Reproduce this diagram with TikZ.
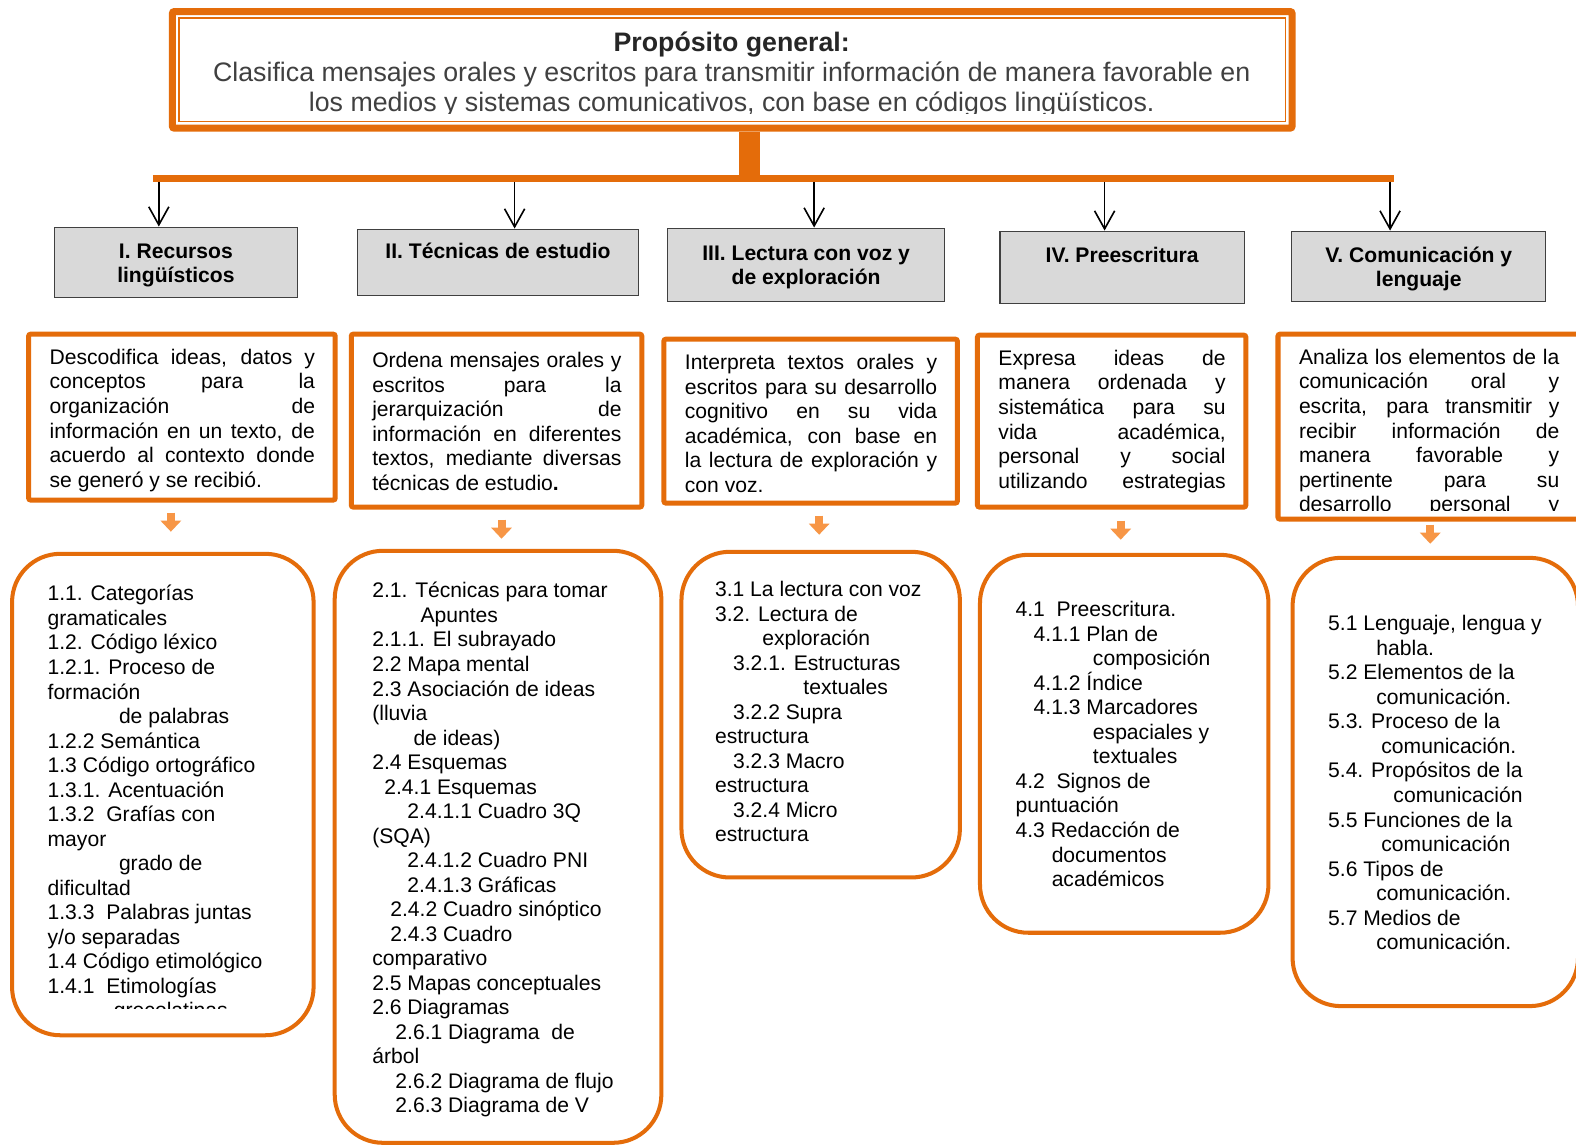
\documentclass[tikz,border=0pt]{standalone}
\usepackage{fontspec}
\setmainfont{Liberation Sans}
\usetikzlibrary{arrows.meta, calc}
\definecolor{orgC}{RGB}{228,108,10}
\definecolor{arrC}{RGB}{247,150,70}
\definecolor{hdrC}{RGB}{217,217,217}
\definecolor{txtC}{RGB}{64,64,64}
\newcommand{\bodyfs}{\fontsize{10.5}{12.2}\selectfont}
\newcommand{\loosepar}{\tolerance=10000 \hbadness=10000 }
\tikzset{
  hdr/.style  = {draw=black!75, fill=hdrC, line width=0.6pt, inner sep=0pt,
                 align=center, font=\bfseries\fontsize{10.5}{12}\selectfont},
  dbox/.style = {draw=orgC, line width=2.5pt, rounded corners=1pt, inner sep=0pt},
  cbox/.style = {draw=orgC, line width=2pt, rounded corners=24pt, inner sep=0pt},
  dtxt/.style = {anchor=north west, inner sep=0pt, align=justify, font=\bodyfs},
  ctxt/.style = {anchor=north west, inner sep=0pt, align=left, font=\bodyfs},
  down/.style = {-{Straight Barb[length=9pt, width=10pt]}, line width=0.8pt},
  blk/.style  = {-{Triangle[length=5.5pt, width=10pt]}, line width=4pt, arrC},
  bar/.style  = {orgC, line width=3.5pt},
}

\begin{document}
\begin{tikzpicture}[x=0.5pt, y=-0.5pt]

\clip (0,0) rectangle (1568,1140);
\fill[white] (0,0) rectangle (1568,1140);

% ============================================================
%  Purpose box
% ============================================================
\node[draw=orgC, line width=3.5pt, rounded corners=1pt, inner sep=0pt,
      minimum width=557pt, minimum height=58pt] (prop) at (728.5,69.5) {};
\draw[orgC, line width=0.6pt]
  ($(prop.north west)+(10,10)$) rectangle ($(prop.south east)-(10,10)$);

\begin{scope}
  \clip (180,20) rectangle (1277,113);
  \node[anchor=north, align=center, inner sep=0pt, text=txtC,
        font=\fontsize{13.3}{15}\selectfont] (proptxt) at (728,31)
  {\textbf{\color{black!85}Propósito general:}\\
   Clasifica mensajes orales y escritos para transmitir información de manera favorable en\\
   los medios y sistemas comunicativos, con base en códigos lingüísticos.};
\end{scope}

% Stem and bar
\coordinate (stem) at (746,178);
\coordinate (barL) at (152,178);
\coordinate (barR) at (1387,178);
\draw[orgC, line width=10.5pt] (stem |- prop.south) -- (stem);
\draw[bar] (barL) -- (barR);

% ============================================================
%  Unit headers
% ============================================================
\node[hdr, minimum width=121pt,   minimum height=35pt]   (h1) at (175,261)
  {\rule{0pt}{10pt}I. Recursos\\lingüísticos};
\node[hdr, minimum width=139.5pt, minimum height=33pt]   (h2) at (495.5,261)
  {II. Técnicas de estudio\\\mbox{}};
\node[hdr, minimum width=138pt,   minimum height=36.5pt] (h3) at (802,263.5)
  {\rule{0pt}{10pt}III. Lectura con voz y\\de exploración};
\node[hdr, minimum width=121.5pt, minimum height=36pt]   (h4) at (1116.5,266)
  {IV. Preescritura\\\mbox{}};
\node[hdr, minimum width=126.5pt, minimum height=35pt]   (h5) at (1411.5,265)
  {\rule{0pt}{10pt}V. Comunicación y\\lenguaje};

\foreach \i/\x in {1/158, 2/512, 3/810, 4/1099, 5/1383} {
  \coordinate (b\i) at (\x,181);
  \draw[down] (b\i) -- (b\i |- h\i.north);
}

% ============================================================
%  Purpose of each unit
% ============================================================
\node[dbox, minimum width=152.5pt, minimum height=82.5pt] (d1) at (181,415) {};
\node[dbox, minimum width=144.5pt, minimum height=86pt]   (d2) at (494,418.5) {};
\node[dbox, minimum width=146pt,   minimum height=81.5pt] (d3) at (806.5,419) {};
\node[dbox, minimum width=133.5pt, minimum height=85.5pt] (d4) at (1106,419) {};
\node[dbox, minimum width=163pt,   minimum height=92pt]   (d5) at (1434.5,424.5) {};

\node[dtxt, text width=132pt] (d1txt) at (49,347)
  {\loosepar Descodifica ideas, datos y\linebreak conceptos para la\linebreak
   organización de\linebreak información en un texto, de\linebreak
   acuerdo al contexto donde\linebreak se generó y se recibió.};
\node[dtxt, text width=124pt] (d2txt) at (370,350)
  {\loosepar Ordena mensajes orales y\linebreak escritos para la\linebreak
   jerarquización de\linebreak información en diferentes\linebreak
   textos, mediante diversas\linebreak técnicas de estudio\textbf{.}};
\node[dtxt, text width=125.5pt] (d3txt) at (681,352)
  {\loosepar Interpreta textos orales y\linebreak escritos para su desarrollo\linebreak
   cognitivo en su vida\linebreak académica, con base en\linebreak
   la lectura de exploración y\linebreak con voz.};
\node[dtxt, text width=113pt] (d4txt) at (993,348)
  {\loosepar Expresa ideas de\linebreak manera ordenada y\linebreak
   sistemática para su\linebreak vida académica,\linebreak
   personal y social\linebreak
   \makebox[\linewidth][s]{utilizando estrategias}};
\begin{scope}
  \clip (1280,340) rectangle (1568,508);
  \node[dtxt, text width=129.5pt] (d5txt) at (1292,347)
    {\loosepar Analiza los elementos de la\linebreak comunicación oral y\linebreak
     escrita, para transmitir y\linebreak recibir información de\linebreak
     manera favorable y\linebreak pertinente para su\linebreak
     \makebox[\linewidth][s]{desarrollo personal y}};
\end{scope}

\foreach \i/\x/\y in {1/170/510, 2/499/517, 3/815/513, 4/1115/518, 5/1423/522} {
  \coordinate (a\i) at (\x,\y);
  \draw[blk] (a\i) -- ++(0,19);
}

% ============================================================
%  Contents of each unit
% ============================================================
\node[cbox, minimum width=150pt,   minimum height=239.5pt] (c1) at (162,790.5) {};
\node[cbox, minimum width=162.5pt, minimum height=294.5pt] (c2) at (495.5,842.5) {};
\node[cbox, minimum width=138.5pt, minimum height=162pt]   (c3) at (816.5,711) {};
\node[cbox, minimum width=143.5pt, minimum height=188pt]   (c4) at (1118.5,740) {};
\node[cbox, minimum width=142pt,   minimum height=223pt]   (c5) at (1428,778) {};

\begin{scope}
  \clip (20,560) rectangle (300,1003);
  \node[ctxt] (c1txt) at (47,582)
    {1.1. Categorías\\
     gramaticales\\
     1.2. Código léxico\\
     1.2.1. Proceso de\\
     formación\\
     \hspace*{35.5pt}de palabras\\
     1.2.2 Semántica\\
     1.3 Código ortográfico\\
     1.3.1. Acentuación\\
     1.3.2\ \ Grafías con\\
     mayor\\
     \hspace*{35.5pt}grado de\\
     dificultad\\
     1.3.3\ \ Palabras juntas\\
     y/o separadas\\
     1.4 Código etimológico\\
     1.4.1\ \ Etimologías\\
     \hspace*{33pt}grecolatinas};
\end{scope}

\node[ctxt] (c2txt) at (370,579)
  {2.1. Técnicas para tomar\\
   \hspace*{24pt}Apuntes\\
   2.1.1. El subrayado\\
   2.2 Mapa mental\\
   2.3 Asociación de ideas\\
   (lluvia\\
   \hspace*{20.5pt}de ideas)\\
   2.4 Esquemas\\
   \hspace*{6pt}2.4.1 Esquemas\\
   \hspace*{17.5pt}2.4.1.1 Cuadro 3Q\\
   (SQA)\\
   \hspace*{17.5pt}2.4.1.2 Cuadro PNI\\
   \hspace*{17.5pt}2.4.1.3 Gráficas\\
   \hspace*{9pt}2.4.2 Cuadro sinóptico\\
   \hspace*{9pt}2.4.3 Cuadro\\
   comparativo\\
   2.5 Mapas conceptuales\\
   2.6 Diagramas\\
   \hspace*{11.5pt}2.6.1 Diagrama\ \ de\\
   árbol\\
   \hspace*{11.5pt}2.6.2 Diagrama de flujo\\
   \hspace*{11.5pt}2.6.3 Diagrama de V};

\node[ctxt] (c3txt) at (711,578)
  {3.1 La lectura con voz\\
   3.2. Lectura de\\
   \hspace*{23.5pt}exploración\\
   \hspace*{9pt}3.2.1. Estructuras\\
   \hspace*{44pt}textuales\\
   \hspace*{9pt}3.2.2 Supra\\
   estructura\\
   \hspace*{9pt}3.2.3 Macro\\
   estructura\\
   \hspace*{9pt}3.2.4 Micro\\
   estructura};

\node[ctxt] (c4txt) at (1010,598)
  {4.1\ \ Preescritura.\\
   \hspace*{9pt}4.1.1 Plan de\\
   \hspace*{38.5pt}composición\\
   \hspace*{9pt}4.1.2 Índice\\
   \hspace*{9pt}4.1.3 Marcadores\\
   \hspace*{38.5pt}espaciales y\\
   \hspace*{38.5pt}textuales\\
   4.2\ \ Signos de\\
   puntuación\\
   4.3 Redacción de\\
   \hspace*{18pt}documentos\\
   \hspace*{18pt}académicos};

\node[ctxt] (c5txt) at (1321,612)
  {5.1 Lenguaje, lengua y\\
   \hspace*{24pt}habla.\\
   5.2 Elementos de la\\
   \hspace*{24pt}comunicación.\\
   5.3. Proceso de la\\
   \hspace*{26.5pt}comunicación.\\
   5.4. Propósitos de la\\
   \hspace*{32.5pt}comunicación\\
   5.5 Funciones de la\\
   \hspace*{26.5pt}comunicación\\
   5.6 Tipos de\\
   \hspace*{24pt}comunicación.\\
   5.7 Medios de\\
   \hspace*{24pt}comunicación.};

\end{tikzpicture}
\end{document}
